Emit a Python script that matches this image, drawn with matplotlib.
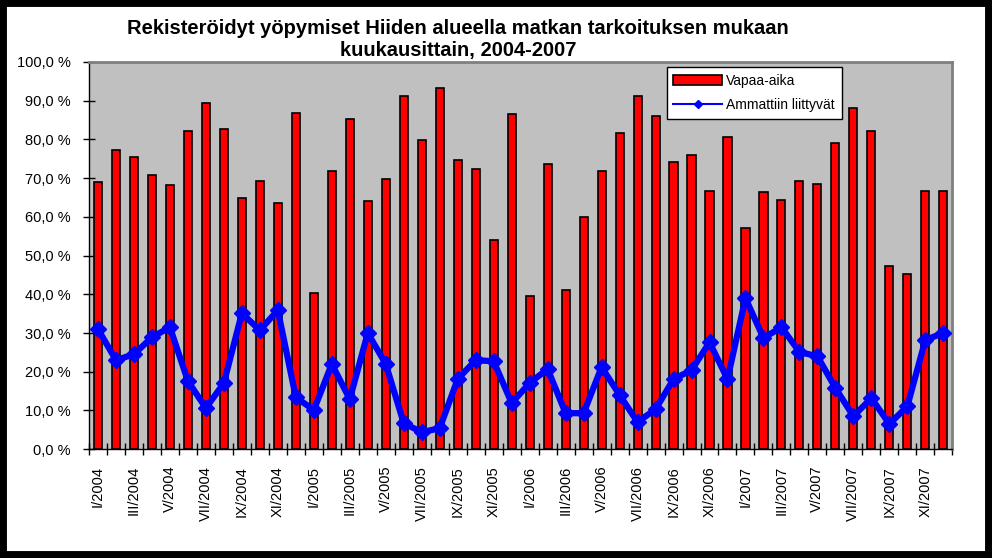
import numpy as np
import matplotlib.pyplot as plt
from matplotlib.lines import Line2D
from matplotlib.patches import Patch, Rectangle
from matplotlib.ticker import FuncFormatter

plt.rcParams['font.family'] = ['Liberation Sans', 'DejaVu Sans']

roman = ['I', 'II', 'III', 'IV', 'V', 'VI', 'VII', 'VIII', 'IX', 'X', 'XI', 'XII']
years = [2004, 2005, 2006, 2007]
months = [f'{r}/{y}' for y in years for r in roman]

# Vapaa-aika (%)
vapaa = [69.0, 77.3, 75.5, 70.8, 68.2, 82.2, 89.4, 82.7, 64.9, 69.3, 63.6, 86.8,
         40.3, 71.8, 85.3, 64.1, 69.8, 91.2, 79.8, 93.3, 74.7, 72.4, 54.0, 86.6,
         39.5, 73.6, 41.1, 60.0, 71.8, 81.7, 91.2, 86.0, 74.2, 76.0, 66.7, 80.6,
         57.1, 66.4, 64.3, 69.3, 68.5, 79.1, 88.1, 82.2, 47.3, 45.2, 66.7, 66.7]

# Ammattiin liittyvät (%)
ammatti = [31.0, 23.0, 24.5, 28.9, 31.5, 17.6, 10.6, 17.1, 35.1, 30.7, 35.9, 13.4,
           10.1, 22.0, 12.9, 30.0, 22.0, 6.7, 4.4, 5.4, 18.1, 23.0, 22.7, 11.9,
           17.1, 20.7, 9.3, 9.3, 21.2, 14.0, 7.0, 10.3, 18.1, 20.4, 27.6, 18.1,
           39.0, 28.7, 31.5, 25.1, 24.0, 15.8, 8.5, 13.2, 6.5, 11.1, 28.2, 30.0]

x = np.arange(len(months))

fig = plt.figure(figsize=(9.92, 5.58), dpi=100)
ax = fig.add_axes([0.0897, 0.195, 0.8703, 0.694])
ax.set_facecolor('#C0C0C0')

ax.bar(x, vapaa, width=0.45, color='#FF0000', edgecolor='black', linewidth=1.2, zorder=2)
ax.plot(x, ammatti, color='#0000FF', linewidth=4.5, marker='D', markersize=8,
        markerfacecolor='#0000FF', markeredgecolor='#0000FF', zorder=3)

ax.set_xlim(-0.5, len(months) - 0.5)
ax.set_ylim(0, 100)
ax.set_yticks(np.arange(0, 101, 10))
ax.yaxis.set_major_formatter(FuncFormatter(lambda v, p: f'{v:.1f} %'.replace('.', ',')))
ax.tick_params(axis='y', direction='inout', length=8, width=1, labelsize=10.5, pad=9)

ax.set_xticks(x[::2])
ax.set_xticklabels(months[::2], rotation=90, fontsize=10.5)
ax.set_xticks(np.arange(-0.5, len(months)), minor=True)
ax.tick_params(axis='x', which='major', length=0, pad=12)
ax.tick_params(axis='x', which='minor', direction='inout', length=8, width=1)

for s in ['top', 'right']:
    ax.spines[s].set_color('#808080')
    ax.spines[s].set_linewidth(2)
for s in ['left', 'bottom']:
    ax.spines[s].set_color('black')
    ax.spines[s].set_linewidth(1)

handles = [Patch(facecolor='#FF0000', edgecolor='black', linewidth=1.2),
           Line2D([], [], color='#0000FF', linewidth=1.5, marker='D', markersize=4)]
leg = ax.legend(handles, ['Vapaa-aika', 'Ammattiin liittyvät'], loc='upper left',
                bbox_to_anchor=(0.669, 0.987), borderaxespad=0, fontsize=10,
                fancybox=False, framealpha=1, edgecolor='black', handlelength=3.5,
                borderpad=0.5, labelspacing=0.7, handletextpad=0.3)
leg.get_frame().set_linewidth(1)

fig.text(0.462, 0.893, 'Rekisteröidyt yöpymiset Hiiden alueella matkan tarkoituksen mukaan\nkuukausittain, 2004-2007',
         ha='center', va='bottom', fontsize=14.5, fontweight='bold', linespacing=1.15)

fig.patches.append(Rectangle((0, 0), 1, 1, transform=fig.transFigure, fill=False,
                             edgecolor='black', linewidth=10))

fig.savefig('out.png', dpi=100)
